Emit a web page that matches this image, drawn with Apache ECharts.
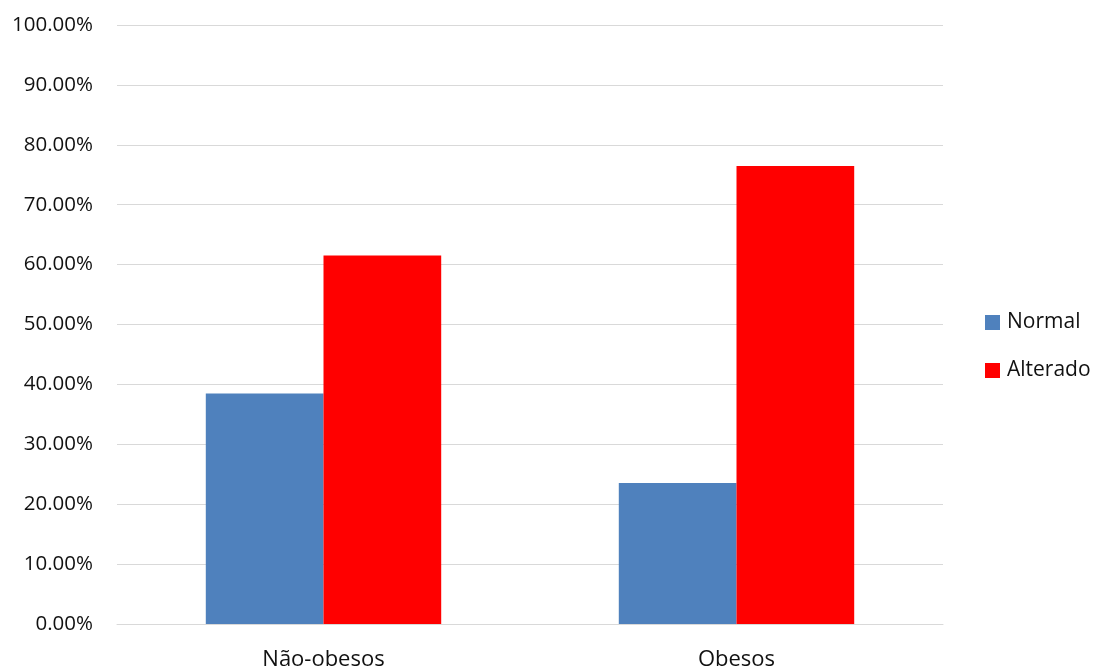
<!DOCTYPE html>
<html>
<head>
<meta charset="utf-8">
<script src="https://cdn.jsdelivr.net/npm/echarts@6/dist/echarts.min.js"></script>
<style>
html,body{margin:0;padding:0;background:#fff;}
#chart{width:1103px;height:671px;}
</style>
</head>
<body>
<div id="chart"></div>
<script>
const categories = ['Não-obesos', 'Obesos'];
const seriesNames = ['Normal', 'Alterado'];
const normalValues = [38.46, 23.53];
const alteradoValues = [61.54, 76.47];
const yTicks = { min: 0, max: 100, interval: 10 };

const FONT = '"Open Sans", "Liberation Sans", sans-serif';
const TEXT = '#111111';
const chart = echarts.init(document.getElementById('chart'));
chart.setOption({
  animation: false,
  backgroundColor: '#ffffff',
  grid: { left: 117, right: 160, top: 25, bottom: 45, containLabel: false },
  legend: {
    orient: 'vertical',
    left: 985,
    top: 312,
    padding: 0,
    itemWidth: 15,
    itemHeight: 15,
    itemGap: 27,
    icon: 'rect',
    textStyle: { fontFamily: FONT, fontSize: 21, color: TEXT, padding: [0, 0, 0, 2] },
    data: seriesNames
  },
  xAxis: {
    type: 'category',
    data: categories,
    axisLine: { show: true, lineStyle: { color: '#d9d9d9', width: 1 } },
    axisTick: { show: false },
    axisLabel: { fontFamily: FONT, fontSize: 22, color: TEXT, margin: 25 }
  },
  yAxis: {
    type: 'value',
    min: yTicks.min,
    max: yTicks.max,
    interval: yTicks.interval,
    axisLine: { show: false },
    axisTick: { show: false },
    splitLine: { lineStyle: { color: '#d9d9d9', width: 1 } },
    axisLabel: {
      fontFamily: FONT, fontSize: 20.5, color: TEXT, margin: 24,
      formatter: v => v.toFixed(2) + '%'
    }
  },
  series: [
    { name: seriesNames[0], type: 'bar', data: normalValues, barGap: '0%', barCategoryGap: '43%',
      itemStyle: { color: '#4f81bd' } },
    { name: seriesNames[1], type: 'bar', data: alteradoValues, barGap: '0%', barCategoryGap: '43%',
      itemStyle: { color: '#ff0000' } }
  ]
});
</script>
</body>
</html>
